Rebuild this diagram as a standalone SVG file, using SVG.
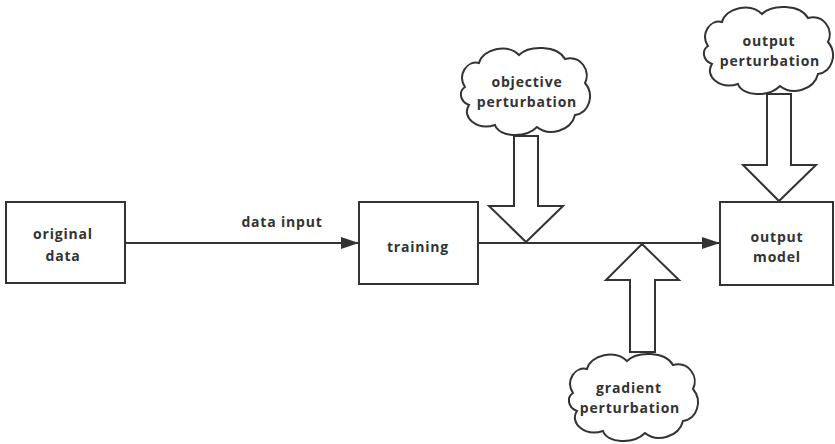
<svg xmlns="http://www.w3.org/2000/svg" width="835" height="444" viewBox="0 0 835 444">
  <style>
    .box { fill: #ffffff; stroke: #333333; stroke-width: 2; }
    .cloud { fill: #ffffff; stroke: #333333; stroke-width: 2; }
    .big { fill: #ffffff; stroke: #333333; stroke-width: 2; stroke-linejoin: miter; }
    .wire { fill: none; stroke: #333333; stroke-width: 2; }
    .lbl { font-family: "Open Sans", "Noto Sans", "Liberation Sans", sans-serif; font-weight: bold; font-size: 14px; letter-spacing: 0.8px; fill: #333333; text-anchor: middle; }
  </style>
  <defs>
    <marker id="arrow" viewBox="0 0 18 12" refX="18" refY="6" markerWidth="18" markerHeight="12" markerUnits="userSpaceOnUse" orient="auto">
      <path d="M0,0 L18,6 L0,12 Z" fill="#333333"/>
    </marker>
    <path id="cloudShape" d="M 8,42 C 0,30 10,15 22,18 C 26,4 50,-2 62,10 C 72,0 100,0 108,14 C 124,10 134,26 128,38 C 138,50 132,68 118,70 C 114,86 92,92 80,82 C 68,94 42,92 38,80 C 20,86 4,72 12,60 C 2,56 2,46 8,42 Z"/>
  </defs>

  <g id="connectors">
    <line class="wire" x1="125" y1="243" x2="359" y2="243" marker-end="url(#arrow)"/>
    <line class="wire" x1="478" y1="243" x2="720" y2="243" marker-end="url(#arrow)"/>
  </g>

  <g id="original-data">
    <rect class="box" x="6" y="202" width="119" height="81"/>
    <text class="lbl" x="63" y="239">original</text>
    <text class="lbl" x="63" y="261">data</text>
  </g>

  <g id="data-input-label">
    <text class="lbl" x="282" y="227">data input</text>
  </g>

  <g id="training">
    <rect class="box" x="359" y="202" width="119" height="82"/>
    <text class="lbl" x="418" y="252">training</text>
  </g>

  <g id="output-model">
    <rect class="box" x="720" y="202" width="113" height="83"/>
    <text class="lbl" x="777" y="242">output</text>
    <text class="lbl" x="777" y="262">model</text>
  </g>

  <g id="objective-perturbation">
    <use href="#cloudShape" class="cloud" transform="translate(457,45)"/>
    <polygon class="big" points="514,136 538,136 538,206 563,206 526,242 489,206 514,206"/>
    <text class="lbl" x="527" y="87">objective</text>
    <text class="lbl" x="527" y="107">perturbation</text>
  </g>

  <g id="output-perturbation">
    <use href="#cloudShape" class="cloud" transform="translate(700,4)"/>
    <polygon class="big" points="767,94 791,94 791,165 816,165 779,201 743,165 767,165"/>
    <text class="lbl" x="769" y="46">output</text>
    <text class="lbl" x="770" y="66">perturbation</text>
  </g>

  <g id="gradient-perturbation">
    <use href="#cloudShape" class="cloud" transform="translate(565,351)"/>
    <polygon class="big" points="642,244 679,280 655,280 655,352 630,352 630,280 606,280"/>
    <text class="lbl" x="629" y="393">gradient</text>
    <text class="lbl" x="630" y="413">perturbation</text>
  </g>
</svg>
